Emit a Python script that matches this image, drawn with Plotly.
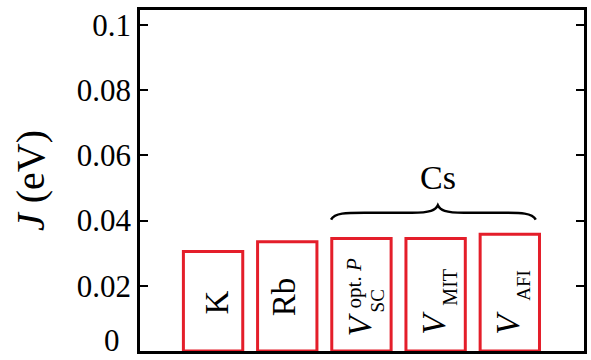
import plotly.graph_objects as go

# Exchange coupling J for each alkali / Cs potential
categories = ["K", "Rb", "V_SC_optP", "V_MIT", "V_AFI"]
j_values = [0.0305, 0.0335, 0.0345, 0.0345, 0.0358]
tick_vals = [0, 0.02, 0.04, 0.06, 0.08, 0.1]
tick_text = ["0", "0.02", "0.04", "0.06", "0.08", "0.1"]

RED = "rgb(228,30,42)"
FONT = "Liberation Serif"
xs = list(range(len(categories)))

fig = go.Figure()
fig.add_trace(go.Bar(
    x=xs, y=j_values, width=0.8,
    marker=dict(color="white", line=dict(color=RED, width=3)),
    hoverinfo="skip", showlegend=False,
))

fig.update_layout(
    width=591, height=360,
    margin=dict(l=140, r=4, t=10, b=9),
    paper_bgcolor="white", plot_bgcolor="white",
    font=dict(family=FONT, size=31, color="black"),
    xaxis=dict(range=[-0.985, 5.0], showticklabels=False, ticks="",
               showgrid=False, zeroline=False, showline=True,
               linecolor="black", linewidth=2.5, mirror=True),
    yaxis=dict(range=[0, 0.1046], tickvals=tick_vals,
               ticktext=[""] + tick_text[1:],
               ticks="inside", ticklen=8, tickwidth=2, tickcolor="black",
               showgrid=False, zeroline=False, showline=True,
               linecolor="black", linewidth=2.5, mirror="ticks",
               tickfont=dict(size=31, family=FONT), ticklabelstandoff=0,
               title=dict(text="<i>J</i> (eV)", font=dict(size=40, family=FONT),
                          standoff=20)),
)

# The zero label sits a little left of the other tick labels, kept inside the page
fig.add_annotation(x=0, y=0, xref="paper", yref="paper", text=tick_text[0],
                   showarrow=False, xanchor="right", yanchor="bottom",
                   xshift=-18, yshift=-9, font=dict(size=31, family=FONT))

# Bar labels, rotated to read upward
def label(i, dx, dy, text, size):
    fig.add_annotation(x=xs[i], y=0, xref="x", yref="y", text=text,
                       textangle=-90, showarrow=False, xshift=dx, yshift=dy,
                       font=dict(size=size, family=FONT, color="black"))

label(0, 3, 48.5, "K", 33)
label(1, -3, 54, "Rb", 33)
# V^{opt. P}_{SC}
label(2, -1, 27, "<i>V</i>", 33)
label(2, -7, 68, "opt. <i>P</i>", 21)
label(2, 16, 50, "SC", 19)
# V_MIT
label(3, -2, 28, "<i>V</i>", 33)
label(3, 14, 64, "MIT", 20)
# V_AFI
label(4, -2, 28, "<i>V</i>", 33)
label(4, 13, 66, "AFI", 19)

# Curly brace grouping the three Cs potentials
x0, x1, xm = 1.59, 4.35, 3.03
yb, yf, yt = 0.0403, 0.0424, 0.0447
brace = (f"M {x0},{yb} C {x0+0.05},{yf} {x0+0.2},{yf} {x0+0.45},{yf} "
         f"L {xm-0.35},{yf} C {xm-0.1},{yf} {xm-0.03},{yf+0.0008} {xm},{yt} "
         f"C {xm+0.03},{yf+0.0008} {xm+0.1},{yf} {xm+0.35},{yf} "
         f"L {x1-0.45},{yf} C {x1-0.2},{yf} {x1-0.05},{yf} {x1},{yb}")
fig.add_shape(type="path", path=brace, xref="x", yref="y",
              line=dict(color="black", width=2.5))
fig.add_annotation(x=xm, y=yt, xref="x", yref="y", text="Cs", showarrow=False,
                   yanchor="middle", yshift=28, font=dict(size=34, family=FONT))

fig.write_html("out.html")
